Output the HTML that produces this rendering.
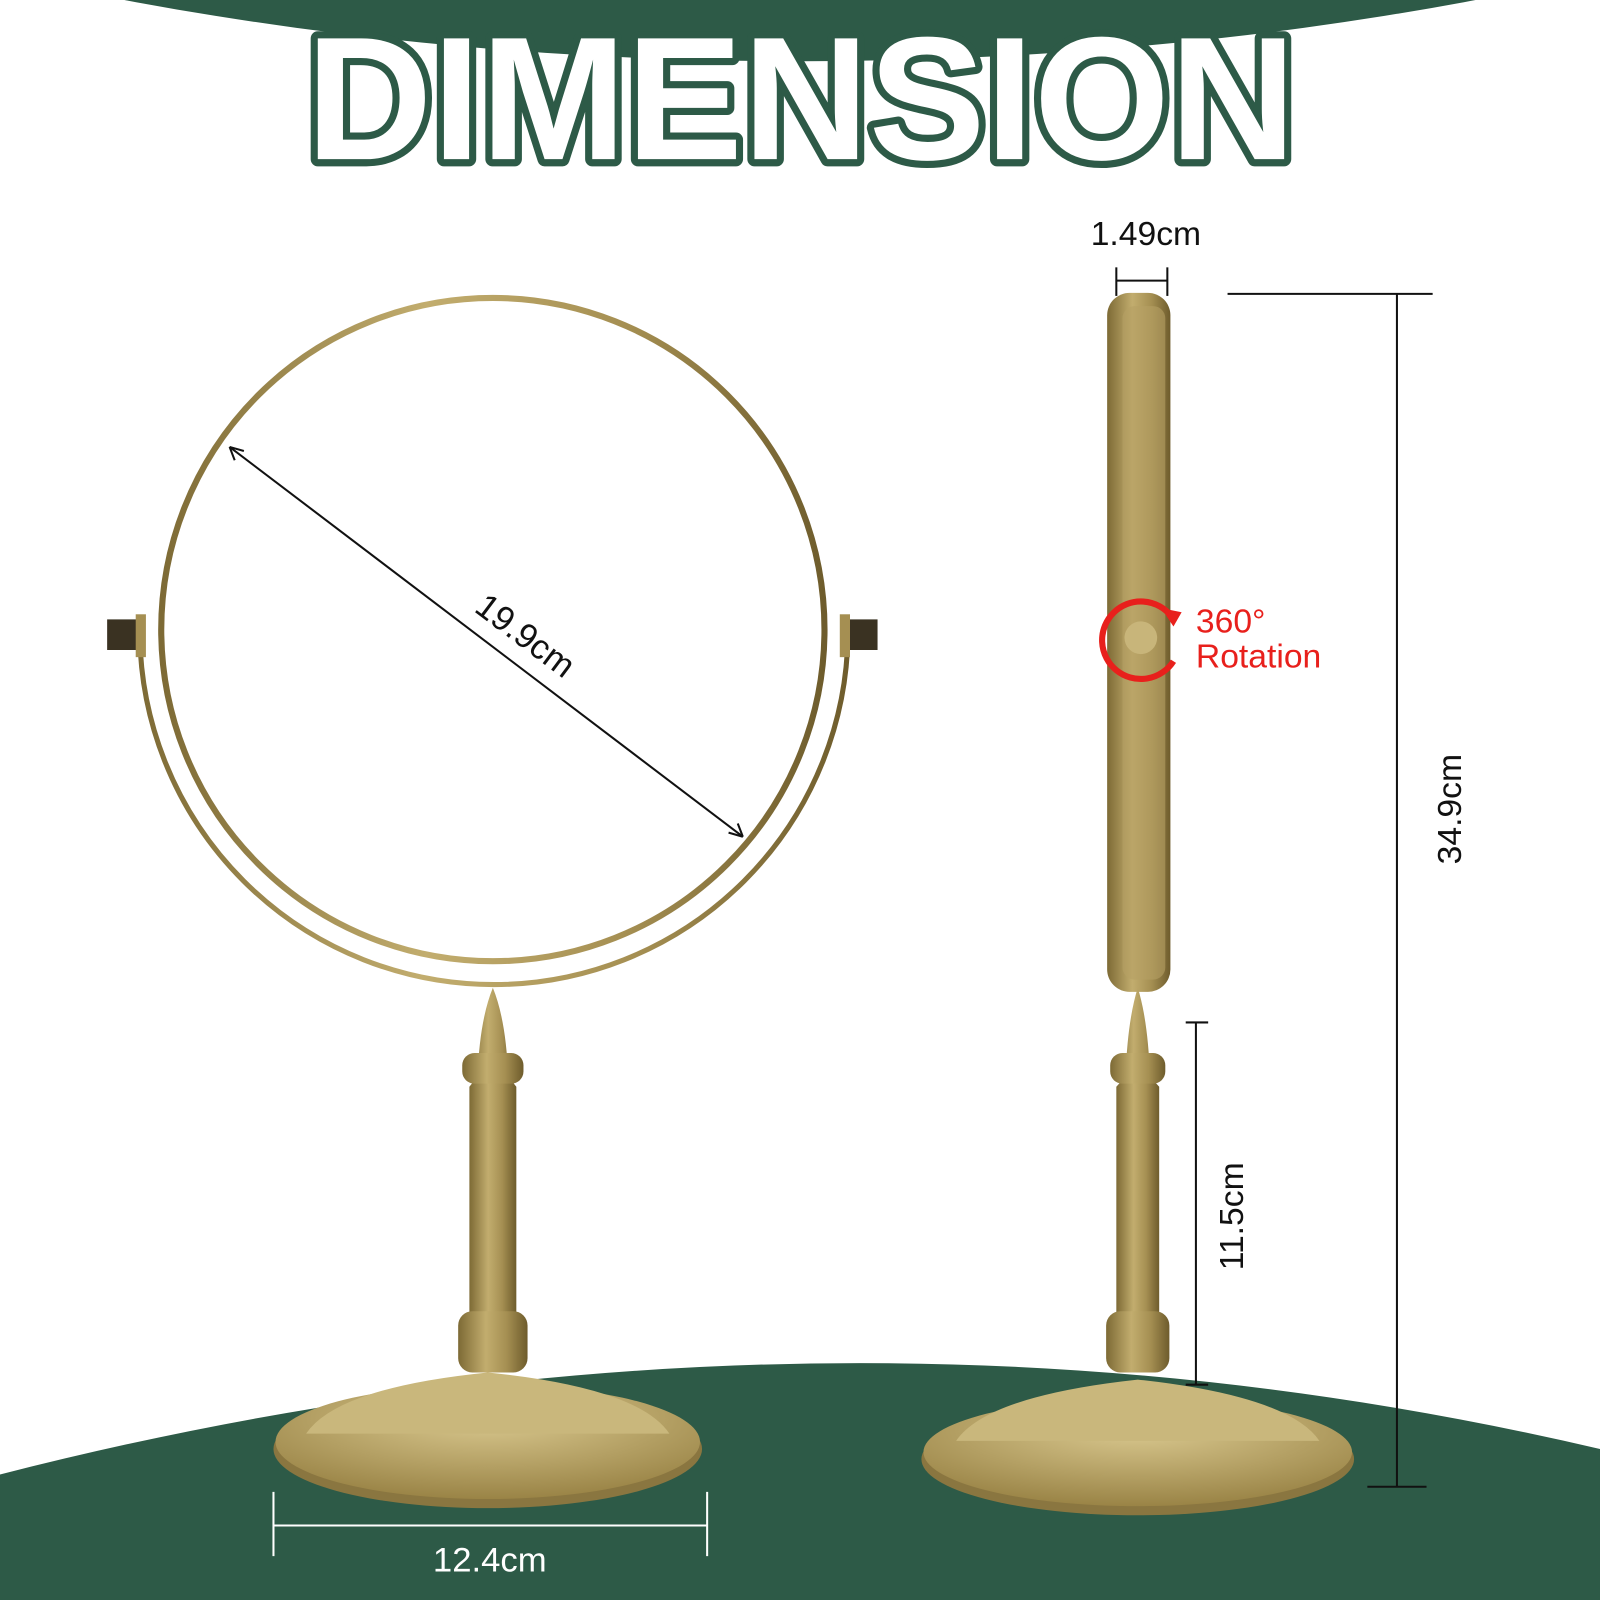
<!DOCTYPE html>
<html><head><meta charset="utf-8"><style>
html,body{margin:0;padding:0;background:#fff}
svg{display:block}
text{font-family:"Liberation Sans","DejaVu Sans",sans-serif}
</style></head><body>
<svg width="1600" height="1600" viewBox="0 0 1568 1568">
<defs>
<linearGradient id="gold" x1="0" x2="1" y1="0" y2="0">
<stop offset="0" stop-color="#7d6a35"/><stop offset="0.4" stop-color="#c2ad6e"/><stop offset="0.7" stop-color="#a58f52"/><stop offset="1" stop-color="#6e5c2c"/>
</linearGradient>
<radialGradient id="baseg" cx="0.5" cy="0.3" r="0.7">
<stop offset="0" stop-color="#d9c88f"/><stop offset="1" stop-color="#9a8446"/>
</radialGradient>
</defs>
<ellipse cx="784" cy="-700" rx="1700" ry="760" fill="#2d5a47"/>
<path d="M0 1445 Q800 1240 1568 1420 L1568 1568 L0 1568 Z" fill="#2d5a47"/>
<text x="785" y="156" text-anchor="middle" font-size="172" font-weight="bold" fill="#fff" stroke="#2d5a47" stroke-width="14" stroke-linejoin="round" paint-order="stroke" textLength="970" lengthAdjust="spacingAndGlyphs">DIMENSION</text>

<g>
<path d="M137 618 A347 347 0 0 0 831 618" fill="none" stroke="url(#gold)" stroke-width="5"/>
<rect x="105" y="607" width="30" height="30" fill="#3a3222"/>
<rect x="832" y="607" width="28" height="30" fill="#3a3222"/>
<rect x="133" y="602" width="10" height="42" fill="#a58f52"/>
<rect x="823" y="602" width="10" height="42" fill="#a58f52"/>
<circle cx="483" cy="617" r="325" fill="#fff" stroke="url(#gold)" stroke-width="6"/>
<path d="M460 1340 L460 1065 L468 1055 Q470 1000 483 968 Q496 1000 498 1055 L506 1065 L506 1340 Z" fill="url(#gold)"/>
<rect x="453" y="1032" width="60" height="30" rx="12" fill="url(#gold)"/>
<rect x="449" y="1285" width="68" height="60" rx="14" fill="url(#gold)"/>
<ellipse cx="478" cy="1420" rx="210" ry="58" fill="#8a7640"/>
<ellipse cx="478" cy="1413" rx="208" ry="56" fill="url(#baseg)"/>
<path d="M300 1405 Q330 1360 478 1345 Q626 1360 656 1405" fill="#c9b77c"/>
</g>
<g stroke="#111" stroke-width="2">
<line x1="225" y1="438" x2="728" y2="820"/>
<path d="M225 438 l14 4 M225 438 l5 13 M728 820 l-14 -4 M728 820 l-5 -13" fill="none"/>
</g>
<text transform="translate(508,632) rotate(37)" text-anchor="middle" font-size="34" fill="#111">19.9cm</text>
<g stroke="#fff" stroke-width="2">
<line x1="268" y1="1495" x2="693" y2="1495"/><line x1="268" y1="1462" x2="268" y2="1525"/><line x1="693" y1="1462" x2="693" y2="1525"/>
</g>
<text x="480" y="1540" text-anchor="middle" font-size="34" fill="#fff">12.4cm</text>

<g>
<rect x="1085" y="287" width="62" height="685" rx="22" fill="url(#gold)"/>
<rect x="1100" y="300" width="42" height="660" rx="12" fill="#b6a064" opacity="0.6"/>
<circle cx="1118" cy="625" r="16" fill="#c8b57a"/>
<path d="M1094 1340 L1094 1065 L1103 1055 Q1105 1000 1115 968 Q1125 1000 1127 1055 L1136 1065 L1136 1340 Z" fill="url(#gold)"/>
<rect x="1088" y="1032" width="54" height="30" rx="12" fill="url(#gold)"/>
<rect x="1084" y="1285" width="62" height="60" rx="14" fill="url(#gold)"/>
<ellipse cx="1115" cy="1430" rx="212" ry="55" fill="#8a7640"/>
<ellipse cx="1115" cy="1423" rx="210" ry="53" fill="url(#baseg)"/>
<path d="M937 1412 Q967 1368 1115 1352 Q1263 1368 1293 1412" fill="#c9b77c"/>
</g>
<path d="M1148 604 A38 38 0 1 0 1150 648" fill="none" stroke="#e8201c" stroke-width="6"/>
<path d="M1138 596 l20 4 l-8 14 z" fill="#e8201c"/>
<text font-size="33" fill="#e8201c"><tspan x="1172" y="620">360°</tspan><tspan x="1172" y="654">Rotation</tspan></text>
<g stroke="#111" stroke-width="2">
<line x1="1094" y1="275" x2="1144" y2="275"/><line x1="1094" y1="262" x2="1094" y2="290"/><line x1="1144" y1="262" x2="1144" y2="290"/>
</g>
<text x="1123" y="240" text-anchor="middle" font-size="33" fill="#111">1.49cm</text>
<g stroke="#111" stroke-width="2">
<line x1="1203" y1="288" x2="1404" y2="288"/><line x1="1369" y1="288" x2="1369" y2="1457"/><line x1="1340" y1="1457" x2="1398" y2="1457"/>
</g>
<text transform="translate(1432,793) rotate(-90)" text-anchor="middle" font-size="33" fill="#111">34.9cm</text>
<g stroke="#111" stroke-width="2">
<line x1="1172" y1="1002" x2="1172" y2="1357"/><line x1="1162" y1="1002" x2="1184" y2="1002"/><line x1="1162" y1="1357" x2="1184" y2="1357"/>
</g>
<text transform="translate(1218,1192) rotate(-90)" text-anchor="middle" font-size="33" fill="#111">11.5cm</text>
</svg>
</body></html>
